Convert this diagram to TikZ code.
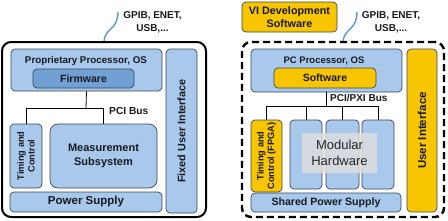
\documentclass[tikz,border=0pt]{standalone}
\usepackage{fontspec}
\setmainfont{Liberation Sans}
\usetikzlibrary{positioning}
\definecolor{sysblue}{RGB}{168, 201, 236}
\definecolor{fwblue}{RGB}{112, 160, 212}
\definecolor{sysyellow}{RGB}{247, 198, 0}
\definecolor{sysedge}{RGB}{60, 70, 85}
\definecolor{systext}{RGB}{25, 25, 30}
\definecolor{cableblue}{RGB}{90, 150, 210}
\definecolor{shadegray}{RGB}{222, 222, 222}

\newcommand{\fsz}[1]{\fontsize{#1}{#1}\selectfont}

\begin{document}
\begin{tikzpicture}[
    x=1pt, y=-1pt,
    box/.style={rectangle, rounded corners=4pt, draw=sysedge, line width=0.7pt,
        inner sep=1pt, align=center, text=systext, font=\bfseries\fsz{10}},
    bluebox/.style={box, fill=sysblue},
    fwbox/.style={box, fill=fwblue},
    yellowbox/.style={box, fill=sysyellow},
    lbl/.style={inner sep=0pt, align=center, text=systext, font=\bfseries\fsz{10}},
    vlbl/.style={lbl, rotate=90},
    frame/.style={rectangle, rounded corners=9pt, draw=black, line width=2pt},
    dashframe/.style={rectangle, rounded corners=9pt, draw=black, line width=2.4pt,
        dash pattern=on 7pt off 4pt},
    bus/.style={draw=black, line width=0.8pt},
    cable/.style={draw=cableblue, line width=1.4pt},
    hwshade/.style={rectangle, fill=shadegray, fill opacity=0.85, text opacity=1,
        inner sep=0pt, align=center, text=black!85, font=\fsz{13}}
]
\useasboundingbox (0,0) rectangle (448,220);

% === Left: traditional instrument ===
\node[frame, minimum width=204pt, minimum height=175pt] (outerL) at (104,129.5) {};
\node[bluebox, minimum width=151pt, minimum height=42pt] (proc) at (86.5,70) {};
\node[lbl, font=\bfseries\fsz{9.8}] (proctitle) at (86,61) {Proprietary Processor, OS};
\node[fwbox, minimum width=101pt, minimum height=19pt, font=\bfseries\fsz{10.5}] (firmware) at (83.5,78.5) {Firmware};
\node[bluebox, minimum width=31pt, minimum height=164pt] (fixedui) at (181.5,131) {};
\node[vlbl, font=\bfseries\fsz{10.8}] (fixeduitxt) at (fixedui) {Fixed User Interface};
\node[bluebox, minimum width=32pt, minimum height=64pt] (timing) at (26,156) {};
\node[vlbl, font=\bfseries\fsz{9.2}\linespread{1.15}\selectfont] (timingtxt) at (timing) {Timing and\\Control};
\node[bluebox, rounded corners=8pt, minimum width=107pt, minimum height=64pt, font=\bfseries\fsz{11}\linespread{1.25}\selectfont] (meas) at (103.5,156) {Measurement\\Subsystem};
\node[bluebox, minimum width=152pt, minimum height=20pt, font=\bfseries\fsz{11.5}] (power) at (86,202) {Power Supply};

% PCI bus
\coordinate (busL) at (86,108);
\draw[bus] (proc.south) -- (busL);
\draw[bus] (timing.north) |- (meas.north |- busL) -- (meas.north);
\node[lbl, anchor=west, font=\bfseries\fsz{10.2}] (pcibus) at (109,111) {PCI Bus};

% cable
\coordinate (cableL) at (118,12);
\draw[cable] (outerL.north) .. controls (105,28) and (118,30) .. (cableL);
\node[lbl, font=\bfseries\fsz{10}\linespread{1.3}\selectfont] (ifaceL) at (152.5,22.5) {GPIB, ENET,\\USB,...};

% === Right: virtual instrument ===
\node[yellowbox, minimum width=95pt, minimum height=30pt, font=\bfseries\fsz{10.8}\linespread{1.25}\selectfont] (videv) at (289.5,17) {VI Development\\Software};
\node[dashframe, minimum width=202pt, minimum height=175pt] (outerR) at (343,129.5) {};
\node[bluebox, minimum width=151pt, minimum height=43pt] (pcproc) at (326.5,70.5) {};
\node[lbl, font=\bfseries\fsz{9.5}] (pctitle) at (324,61) {PC Processor, OS};
\node[yellowbox, minimum width=102pt, minimum height=20pt, font=\bfseries\fsz{10.5}] (software) at (325,78) {Software};
\node[yellowbox, minimum width=30pt, minimum height=163pt] (ui) at (422,130.5) {};
\node[vlbl, font=\bfseries\fsz{11.5}] (uitxt) at (ui) {User Interface};
\node[yellowbox, minimum width=31pt, minimum height=72pt] (fpga) at (266.5,156) {};
\node[vlbl, font=\bfseries\fsz{9.2}\linespread{1.15}\selectfont] (fpgatxt) at (fpga) {Timing and\\Control (FPGA)};
\node[bluebox, minimum width=32pt, minimum height=69pt] (mod1) at (306,154.5) {};
\node[bluebox, minimum width=33pt, minimum height=69pt] (mod2) at (342.5,154.5) {};
\node[bluebox, minimum width=32pt, minimum height=69pt] (mod3) at (378,154.5) {};
\node[hwshade, minimum width=75pt, minimum height=40pt, font=\fsz{13}\linespread{1.2}\selectfont] (modhw) at (339.5,153) {Modular\\Hardware};
\node[bluebox, minimum width=150pt, minimum height=19pt, font=\bfseries\fsz{10.6}] (shared) at (326,202.5) {Shared Power Supply};

% PCI/PXI bus
\coordinate (busR) at (326.5,106);
\draw[bus] (pcproc.south) -- (busR);
\draw[bus] (fpga.north) |- (mod3.north |- busR) -- (mod3.north);
\foreach \m in {1,2} {
    \draw[bus] (mod\m.north) -- (mod\m.north |- busR);
}
\node[lbl, anchor=west, font=\bfseries\fsz{10}] (pxibus) at (330,98) {PCI/PXI Bus};

% cable
\coordinate (cableR) at (357,12);
\draw[cable] (outerR.north) .. controls (345,28) and (357,30) .. (cableR);
\node[lbl, font=\bfseries\fsz{10}\linespread{1.3}\selectfont] (ifaceR) at (391,22.5) {GPIB, ENET,\\USB,...};

\end{tikzpicture}
\end{document}
